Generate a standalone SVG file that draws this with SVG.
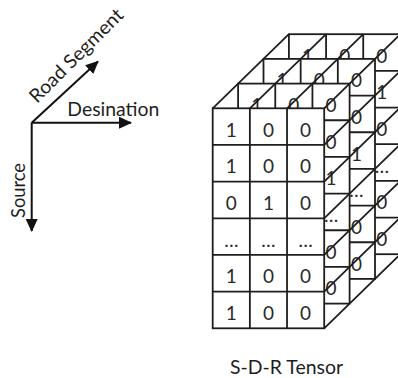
<svg xmlns="http://www.w3.org/2000/svg" xmlns:xlink="http://www.w3.org/1999/xlink" width="398" height="378" viewBox="0 0 398 378">
  <style>
    .grid { fill: #ffffff; stroke: #1e1e1e; stroke-width: 1.8; }
    .gl { fill: none; stroke: #1e1e1e; stroke-width: 1.8; }
    .d { font-family: Lato, "Open Sans", sans-serif; font-size: 19px; fill: #2a2a2a; text-anchor: middle; }
    .lbl { font-family: Lato, "Open Sans", sans-serif; font-size: 19px; fill: #1e1e1e; }
    .ax { fill: none; stroke: #111; stroke-width: 2; marker-end: url(#ah); }
    .edge { fill: none; stroke: #1e1e1e; stroke-width: 1.8; }
  </style>
  <defs>
    <marker id="ah" markerUnits="userSpaceOnUse" markerWidth="13" markerHeight="12" viewBox="0 0 13 12" refX="12" refY="6" orient="auto">
      <path d="M0,0 L13,6 L0,12 z" fill="#111"/>
    </marker>
    <g id="face">
      <rect class="grid" x="0" y="0" width="111.5" height="220"/>
      <path class="gl" d="M37.17,0V220 M74.33,0V220 M0,36.67H111.5 M0,73.33H111.5 M0,110H111.5 M0,146.67H111.5 M0,183.33H111.5"/>
    </g>
  </defs>

  <!-- axes -->
  <g id="axes">
    <path class="ax" d="M31.7,122.7 L131,122.7"/>
    <path class="ax" d="M31.7,122.7 L98,61.5"/>
    <path class="ax" d="M31.7,122.7 L31.7,231"/>
  </g>
  <g id="label-road"><text class="lbl" transform="translate(37,104) rotate(-45)" textLength="124" lengthAdjust="spacingAndGlyphs">Road Segment</text></g>
  <g id="label-dest"><text class="lbl" x="67.3" y="115.7" textLength="92" lengthAdjust="spacingAndGlyphs">Desination</text></g>
  <g id="label-source"><text class="lbl" transform="translate(25,218) rotate(-90)" textLength="55" lengthAdjust="spacingAndGlyphs">Source</text></g>

  <!-- tensor layers, back to front -->
  <g id="layer-3" transform="translate(288.9,34.2)">
    <use xlink:href="#face"/>
    <text class="d" x="18.58" y="28.5">1</text>
    <text class="d" x="55.75" y="28.5">0</text>
    <text class="d" x="92.92" y="28.5">0</text>
    <text class="d" x="92.92" y="65.2">1</text>
    <text class="d" x="92.92" y="101.8">0</text>
    <text class="d" x="92.92" y="138.5">…</text>
    <text class="d" x="92.92" y="175.2">0</text>
    <text class="d" x="92.92" y="211.8">0</text>
  </g>
  <g id="layer-2" transform="translate(263.5,58.9)">
    <use xlink:href="#face"/>
    <text class="d" x="18.58" y="28.5">1</text>
    <text class="d" x="55.75" y="28.5">0</text>
    <text class="d" x="92.92" y="28.5">0</text>
    <text class="d" x="92.92" y="65.2">0</text>
    <text class="d" x="92.92" y="101.8">1</text>
    <text class="d" x="92.92" y="138.5">…</text>
    <text class="d" x="92.92" y="175.2">0</text>
    <text class="d" x="92.92" y="211.8">0</text>
  </g>
  <g id="layer-1" transform="translate(238.1,83.6)">
    <use xlink:href="#face"/>
    <text class="d" x="18.58" y="28.5">1</text>
    <text class="d" x="55.75" y="28.5">0</text>
    <text class="d" x="92.92" y="28.5">0</text>
    <text class="d" x="92.92" y="65.2">0</text>
    <text class="d" x="92.92" y="101.8">1</text>
    <text class="d" x="92.92" y="138.5">…</text>
    <text class="d" x="92.92" y="175.2">0</text>
    <text class="d" x="92.92" y="211.8">0</text>
  </g>
  <g id="layer-0" transform="translate(212.7,108.3)">
    <use xlink:href="#face"/>
    <text class="d" x="18.58" y="28.5">1</text>
    <text class="d" x="55.75" y="28.5">0</text>
    <text class="d" x="92.92" y="28.5">0</text>
    <text class="d" x="18.58" y="65.2">1</text>
    <text class="d" x="55.75" y="65.2">0</text>
    <text class="d" x="92.92" y="65.2">0</text>
    <text class="d" x="18.58" y="101.8">0</text>
    <text class="d" x="55.75" y="101.8">1</text>
    <text class="d" x="92.92" y="101.8">0</text>
    <text class="d" x="18.58" y="138.5">…</text>
    <text class="d" x="55.75" y="138.5">…</text>
    <text class="d" x="92.92" y="138.5">…</text>
    <text class="d" x="18.58" y="175.2">1</text>
    <text class="d" x="55.75" y="175.2">0</text>
    <text class="d" x="92.92" y="175.2">0</text>
    <text class="d" x="18.58" y="211.8">1</text>
    <text class="d" x="55.75" y="211.8">0</text>
    <text class="d" x="92.92" y="211.8">0</text>
  </g>

  <!-- depth edges -->
  <g id="connectors">
    <path class="edge" d="M212.7,108.3 l76.2,-74.1 M249.87,108.3 l76.2,-74.1 M287.03,108.3 l76.2,-74.1 M324.2,108.3 l76.2,-74.1 M324.2,144.97 l76.2,-74.1 M324.2,181.63 l76.2,-74.1 M324.2,218.3 l76.2,-74.1 M324.2,254.97 l76.2,-74.1 M324.2,291.63 l76.2,-74.1 M324.2,328.3 l76.2,-74.1"/>
  </g>

  <g id="caption"><text class="lbl" x="230" y="374" textLength="113" lengthAdjust="spacingAndGlyphs">S-D-R Tensor</text></g>
</svg>
